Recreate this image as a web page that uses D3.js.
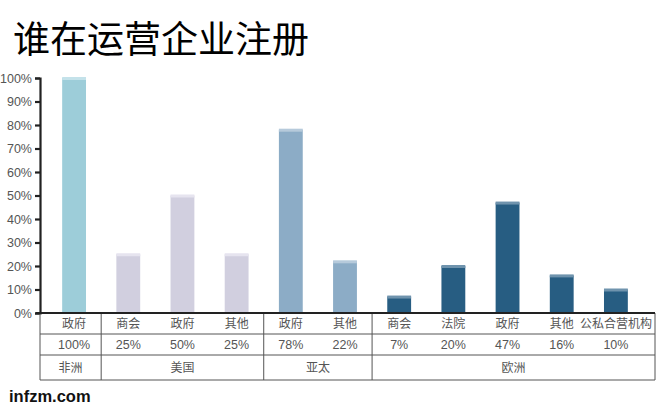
<!DOCTYPE html>
<html>
<head>
<meta charset="utf-8">
<script src="https://cdn.jsdelivr.net/npm/d3@7"></script>
<style>
  body { margin: 0; background: #fff; }
  svg text { font-family: "Liberation Sans", Arial, "Noto Sans CJK SC", sans-serif; }
</style>
</head>
<body>
<div id="chart"></div>
<script>
// data
var categories = ["政府", "商会", "政府", "其他", "政府", "其他", "商会", "法院", "政府", "其他", "公私合营机构"];
var values = [100, 25, 50, 25, 78, 22, 7, 20, 47, 16, 10];
var regions = ["非洲", "美国", "亚太", "欧洲"];
var regionSize = [1, 3, 2, 5];
var regionColor = ["#9dcdd9", "#d1cfdf", "#8cacc6", "#275d82"];
var regionCap = ["#c4e2ea", "#e6e4ef", "#b6cadb", "#6f93ad"];
var yTicks = [0, 10, 20, 30, 40, 50, 60, 70, 80, 90, 100];

var W = 662, H = 406;
var svg = d3.select("#chart").append("svg")
	.attr("width", W)
	.attr("height", H);

// title
svg.append("text")
	.attr("x", 13)
	.attr("y", 53)
	.style("font-family", "'Noto Sans CJK SC', sans-serif")
	.style("font-size", "37px")
	.attr("fill", "#000")
	.text("谁在运营企业注册");

// region index per bar
var regionOf = [];
regionSize.forEach(function(n, i) { for (var k = 0; k < n; k++) regionOf.push(i); });

var x = d3.scaleBand()
	.domain(d3.range(categories.length))
	.range([47, 643])
	.paddingInner(0.56)
	.paddingOuter(0.28);
var step = x.step();
var x0 = 47;

var y = d3.scaleLinear().domain([0, 100]).range([313, 78]);

// bars
var bars = svg.append("g").selectAll("g")
	.data(values)
	.enter().append("g");

bars.append("rect")
	.attr("x", function(d, i) { return x(i); })
	.attr("y", function(d) { return y(d); })
	.attr("width", x.bandwidth())
	.attr("height", function(d) { return y(0) - y(d); })
	.attr("fill", function(d, i) { return regionColor[regionOf[i]]; });

// light cap on top of each bar
bars.append("rect")
	.attr("x", function(d, i) { return x(i); })
	.attr("y", function(d) { return y(d) - 1; })
	.attr("width", x.bandwidth())
	.attr("height", 3)
	.attr("fill", function(d, i) { return regionCap[regionOf[i]]; });

// y axis
var yAxis = d3.axisLeft(y)
	.tickValues(yTicks)
	.tickFormat(function(d) { return d + "%"; })
	.tickSize(5)
	.tickPadding(3);

var gy = svg.append("g")
	.attr("transform", "translate(40,0)")
	.call(yAxis);
gy.select(".domain").attr("stroke", "#222").attr("stroke-width", 2.2);
gy.selectAll(".tick line").attr("stroke", "#222").attr("stroke-width", 2.2);
gy.selectAll(".tick text")
	.attr("fill", "#555")
	.style("font-size", "12.5px")
	.style("font-family", "'Liberation Sans', Arial, sans-serif");

// table under the chart
var rowY = [313, 334, 355, 380];
var tableLeft = 40, tableRight = 655;
var table = svg.append("g");

// horizontal lines
table.selectAll("line.h")
	.data(rowY.slice(1))
	.enter().append("line")
	.attr("class", "h")
	.attr("x1", tableLeft).attr("x2", tableRight)
	.attr("y1", function(d) { return d; })
	.attr("y2", function(d) { return d; })
	.attr("stroke", "#555")
	.attr("stroke-width", 1);

// vertical lines at group boundaries
var bounds = [0];
regionSize.reduce(function(a, n) { bounds.push(a + n); return a + n; }, 0);
table.selectAll("line.v")
	.data(bounds)
	.enter().append("line")
	.attr("class", "v")
	.attr("x1", function(b, i) { return i === 0 ? tableLeft : (i === bounds.length - 1 ? tableRight : x0 + b * step); })
	.attr("x2", function(b, i) { return i === 0 ? tableLeft : (i === bounds.length - 1 ? tableRight : x0 + b * step); })
	.attr("y1", rowY[0])
	.attr("y2", rowY[3])
	.attr("stroke", "#555")
	.attr("stroke-width", 1);

// x axis baseline
svg.append("line")
	.attr("x1", 36).attr("x2", tableRight)
	.attr("y1", 313).attr("y2", 313)
	.attr("stroke", "#222")
	.attr("stroke-width", 2.2);

// category labels
table.selectAll("text.cat")
	.data(categories)
	.enter().append("text")
	.attr("class", "cat")
	.attr("x", function(d, i) { return x(i) + x.bandwidth() / 2; })
	.attr("y", 328)
	.attr("text-anchor", "middle")
	.attr("fill", "#555")
	.style("font-size", "12px")
	.text(function(d) { return d; });

// percent labels
table.selectAll("text.pct")
	.data(values)
	.enter().append("text")
	.attr("class", "pct")
	.attr("x", function(d, i) { return x(i) + x.bandwidth() / 2; })
	.attr("y", 349)
	.attr("text-anchor", "middle")
	.attr("fill", "#555")
	.style("font-size", "12.5px")
	.text(function(d) { return d + "%"; });

// region labels
table.selectAll("text.reg")
	.data(regions)
	.enter().append("text")
	.attr("class", "reg")
	.attr("x", function(d, i) {
		var a = i === 0 ? tableLeft : x0 + bounds[i] * step;
		var b = i === regions.length - 1 ? tableRight : x0 + bounds[i + 1] * step;
		return (a + b) / 2;
	})
	.attr("y", 372)
	.attr("text-anchor", "middle")
	.attr("fill", "#555")
	.style("font-size", "12px")
	.text(function(d) { return d; });

// source
svg.append("text")
	.attr("x", 9)
	.attr("y", 402)
	.attr("fill", "#111")
	.style("font-weight", "bold")
	.style("font-size", "16.5px")
	.style("font-family", "'Liberation Sans', Arial, sans-serif")
	.text("infzm.com");
</script>
</body>
</html>
